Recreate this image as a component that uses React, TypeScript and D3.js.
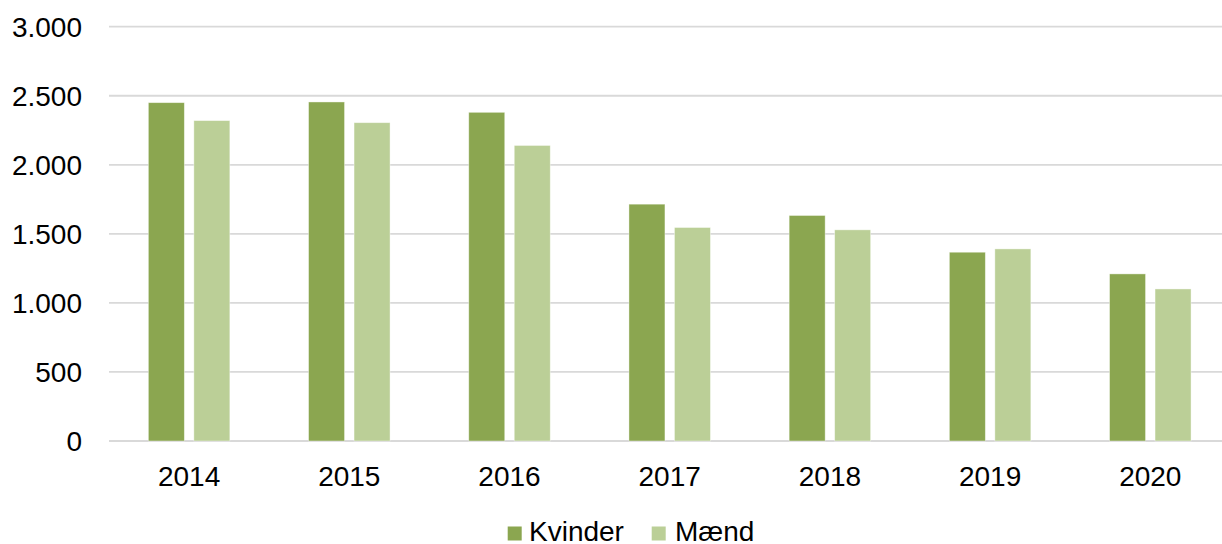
import React from "react";
import * as d3 from "d3";

const categories = ["2014", "2015", "2016", "2017", "2018", "2019", "2020"];
const seriesNames = ["Kvinder", "Mænd"];
const kvinder = [2450, 2455, 2380, 1715, 1633, 1367, 1210];
const maend = [2320, 2305, 2140, 1546, 1529, 1391, 1101];
const yTicks = [0, 500, 1000, 1500, 2000, 2500, 3000];
const colors = ["#8BA650", "#BBCF97"];

const W = 1222;
const H = 544;
const left = 109;
const right = 1230.4;
const gridRight = 1222;
const top = 26.7;
const bottom = 441;
const FONT = "'Liberation Sans', Arial, sans-serif";

export default function App() {
  const x = d3.scaleBand<string>().domain(categories).range([left, right]).paddingInner(0).paddingOuter(0);
  const y = d3.scaleLinear().domain([0, 3000]).range([bottom, top]);
  const fmt = (v: number) => d3.format(",")(v).replace(/,/g, ".");
  const barW = 36;
  const gap = 9.5;
  const series = [kvinder, maend];

  return (
    <svg width={W} height={H} style={{ position: "absolute", left: 0, top: 0, background: "#fff" }} fontFamily={FONT}>
      {yTicks.map((t) => (
        <g key={t}>
          <line x1={left} x2={gridRight} y1={y(t)} y2={y(t)} stroke="#D9D9D9" strokeWidth={1.8} />
          <text x={82} y={y(t) + 9.8} textAnchor="end" fontSize={28} fill="#000">
            {fmt(t)}
          </text>
        </g>
      ))}
      {categories.map((c, i) => {
        const cx = (x(c) as number) + x.bandwidth() / 2;
        return (
          <g key={c}>
            {series.map((s, si) => {
              const bx = cx - gap / 2 - barW + si * (barW + gap);
              return (
                <rect
                  key={si}
                  x={bx}
                  y={y(s[i])}
                  width={barW}
                  height={y(0) - y(s[i])}
                  fill={colors[si]}
                  stroke="#ffffff"
                  strokeOpacity={0.5}
                  strokeWidth={0.8}
                />
              );
            })}
            <text x={cx} y={486} textAnchor="middle" fontSize={28} fill="#000">
              {c}
            </text>
          </g>
        );
      })}
      <g>
        <rect x={507.7} y={526.5} width={14} height={14} fill={colors[0]} />
        <text x={529} y={540.5} fontSize={28} fill="#000">{seriesNames[0]}</text>
        <rect x={651.7} y={526.5} width={14} height={14} fill={colors[1]} />
        <text x={675} y={540.5} fontSize={28} fill="#000">{seriesNames[1]}</text>
      </g>
    </svg>
  );
}
